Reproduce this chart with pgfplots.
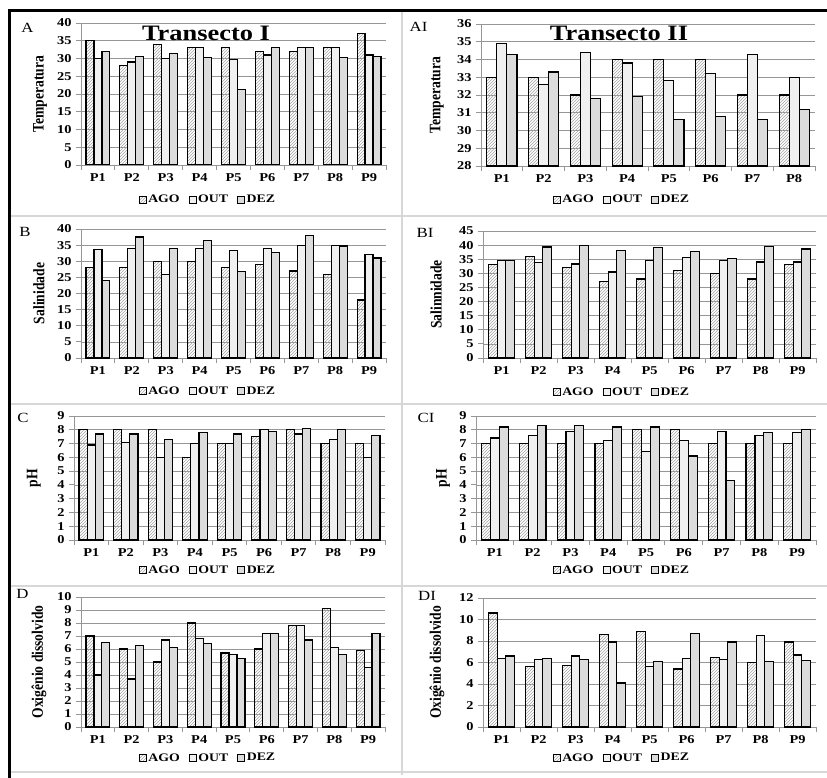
\documentclass[border=0pt]{standalone}
\usepackage{pgfplots}
\pgfplotsset{compat=1.18}
\usepackage{fontspec}
\setmainfont[FakeStretch=1.2]{Liberation Serif}
\newfontfamily\condfont[FakeStretch=0.85]{Liberation Serif}
\usetikzlibrary{patterns}
\definecolor{gridgray}{RGB}{150,150,150}
\definecolor{outfill}{RGB}{240,240,240}
\definecolor{dezfill}{RGB}{220,220,220}
\definecolor{hatchgray}{RGB}{165,165,165}
\definecolor{framegray}{RGB}{215,215,215}

\pgfplotsset{
  every non boxed x axis/.style={},
  every non boxed y axis/.style={},
  panel/.style={
    scale only axis,
    ybar,
    bar width=0.235,
    axis x line=bottom, axis y line=left,
    x axis line style={-}, y axis line style={-},
    axis line style={draw=gridgray, line width=0.8pt},
    ymajorgrids, grid style={draw=gridgray, line width=0.7pt},
    xtick={0,...,8},
    xticklabels={P1,P2,P3,P4,P5,P6,P7,P8,P9},
    xmin=-0.5, xmax=8.5,
    major x tick style={draw=none},
    minor xtick={-0.5,0.5,...,8.5},
    minor x tick style={draw=gridgray, line width=0.8pt},
    minor tick length=5pt,
    major tick length=5pt,
    tick align=outside,
    ytick style={draw=gridgray, line width=0.8pt},
    tick label style={font=\fontsize{12}{14}\selectfont\bfseries},
    yticklabel style={xshift=-1pt},
    /pgf/number format/assume math mode=true,
    ylabel style={font=\condfont\fontsize{16}{18}\selectfont\bfseries, anchor=center},
    legend columns=3,
    legend style={draw=none, fill=none, font=\fontsize{11.5}{13}\selectfont\bfseries, anchor=center,
      /tikz/every even column/.append style={column sep=7pt}},
  },
  sqleg/.style={legend image code/.code={\draw[##1, draw=black, line width=0.5pt] (0pt,-3.5pt) rectangle (7pt,3.5pt);}},
  ago/.style={draw=black, line width=1.2pt, pattern=north east lines, pattern color=hatchgray, bar shift=-0.235, sqleg},
  out/.style={draw=black, line width=1.2pt, fill=outfill, bar shift=0, sqleg},
  dez/.style={draw=black, line width=1.2pt, fill=dezfill, bar shift=0.235, sqleg},
}

\begin{document}
\begin{tikzpicture}
\path[use as bounding box] (0pt,0pt) rectangle (827pt,-778pt);
\fill[white] (0pt,0pt) rectangle (827pt,-778pt);

% frame
\draw[framegray, line width=2.5pt] (402pt,-12pt) -- (402pt,-775pt);
\draw[framegray, line width=2pt] (11pt,-216pt) -- (827pt,-216pt);
\draw[framegray, line width=2pt] (11pt,-404pt) -- (827pt,-404pt);
\draw[framegray, line width=2pt] (11pt,-586pt) -- (827pt,-586pt);
\draw[framegray, line width=2pt] (11pt,-772pt) -- (827pt,-772pt);
\fill[black] (8pt,-9.5pt) rectangle (827pt,-12pt);
\fill[black] (8pt,-9.5pt) rectangle (11pt,-778pt);

% ---------- A ----------
\begin{axis}[panel, at={(81pt,-165pt)}, anchor=south west, width=305pt, height=142pt,
  ymin=0, ymax=40, ytick={0,5,...,40}, ylabel={Temperatura},
  ylabel style={at={(axis description cs:-0.134,0.5)}},
  legend style={at={(0.416,-0.246)}}]
\addplot[ago] coordinates {(0,35) (1,28) (2,34) (3,33) (4,33) (5,32) (6,32) (7,33) (8,37)};
\addplot[out] coordinates {(0,30) (1,29) (2,30) (3,33) (4,29.8) (5,31) (6,33) (7,33) (8,31)};
\addplot[dez] coordinates {(0,32) (1,30.5) (2,31.3) (3,30.3) (4,21.2) (5,33) (6,33) (7,30.3) (8,30.5)};
\legend{AGO,OUT,DEZ}
\end{axis}

% ---------- AI ----------
\begin{axis}[panel, at={(481pt,-166pt)}, anchor=south west, width=334pt, height=142pt,
  xmin=-0.5, xmax=7.5, xtick={0,...,7}, minor xtick={-0.5,0.5,...,7.5},
  xticklabels={P1,P2,P3,P4,P5,P6,P7,P8},
  bar width=0.24,
  ymin=28, ymax=36, ytick={28,29,...,36}, ylabel={Temperatura},
  ylabel style={at={(axis description cs:-0.132,0.5)}},
  legend style={at={(0.422,-0.239)}}]
\addplot[ago, bar shift=-0.24] coordinates {(0,33) (1,33) (2,32) (3,34) (4,34) (5,34) (6,32) (7,32)};
\addplot[out] coordinates {(0,34.9) (1,32.6) (2,34.4) (3,33.8) (4,32.8) (5,33.2) (6,34.3) (7,33)};
\addplot[dez, bar shift=0.24] coordinates {(0,34.3) (1,33.3) (2,31.8) (3,31.9) (4,30.6) (5,30.8) (6,30.6) (7,31.2)};
\legend{AGO,OUT,DEZ}
\end{axis}

% ---------- B ----------
\begin{axis}[panel, at={(81pt,-358pt)}, anchor=south west, width=305pt, height=129pt,
  ymin=0, ymax=40, ytick={0,5,...,40}, ylabel={Salinidade},
  ylabel style={at={(axis description cs:-0.138,0.5)}},
  legend style={at={(0.416,-0.256)}}]
\addplot[ago] coordinates {(0,28) (1,28) (2,30) (3,30) (4,28) (5,29) (6,27) (7,26) (8,18)};
\addplot[out] coordinates {(0,33.6) (1,34) (2,26) (3,34) (4,33.3) (5,34) (6,35) (7,35) (8,32)};
\addplot[dez] coordinates {(0,24) (1,37.5) (2,34) (3,36.5) (4,26.7) (5,32.7) (6,38) (7,34.7) (8,31)};
\legend{AGO,OUT,DEZ}
\end{axis}

% ---------- BI ----------
\begin{axis}[panel, at={(483pt,-358pt)}, anchor=south west, width=333pt, height=127pt,
  ymin=0, ymax=45, ytick={0,5,...,45}, ylabel={Salinnidade},
  ylabel style={at={(axis description cs:-0.141,0.5)}},
  legend style={at={(0.417,-0.268)}}]
\addplot[ago] coordinates {(0,33) (1,36) (2,32) (3,27) (4,28) (5,31) (6,30) (7,28) (8,33)};
\addplot[out] coordinates {(0,34.5) (1,33.7) (2,33.3) (3,30.5) (4,34.5) (5,35.7) (6,34.5) (7,34) (8,34)};
\addplot[dez] coordinates {(0,34.5) (1,39.3) (2,40) (3,38) (4,39.1) (5,37.7) (6,35.3) (7,39.5) (8,38.6)};
\legend{AGO,OUT,DEZ}
\end{axis}

% ---------- C ----------
\begin{axis}[panel, at={(74pt,-540pt)}, anchor=south west, width=311pt, height=124pt,
  ymin=0, ymax=9, ytick={0,1,...,9}, ylabel={pH},
  ylabel style={at={(axis description cs:-0.129,0.5)}},
  legend style={at={(0.431,-0.242)}}]
\addplot[ago] coordinates {(0,8) (1,8) (2,8) (3,6) (4,7) (5,7.5) (6,8) (7,7) (8,7)};
\addplot[out] coordinates {(0,6.9) (1,7.1) (2,6) (3,7) (4,7) (5,8) (6,7.7) (7,7.3) (8,6)};
\addplot[dez] coordinates {(0,7.7) (1,7.7) (2,7.3) (3,7.8) (4,7.7) (5,7.9) (6,8.1) (7,8) (8,7.6)};
\legend{AGO,OUT,DEZ}
\end{axis}

% ---------- CI ----------
\begin{axis}[panel, at={(476pt,-540pt)}, anchor=south west, width=340pt, height=124pt,
  ymin=0, ymax=9, ytick={0,1,...,9}, ylabel={pH},
  ylabel style={at={(axis description cs:-0.097,0.5)}},
  legend style={at={(0.429,-0.242)}}]
\addplot[ago] coordinates {(0,7) (1,7) (2,7) (3,7) (4,8) (5,8) (6,7) (7,7) (8,7)};
\addplot[out] coordinates {(0,7.4) (1,7.6) (2,7.9) (3,7.2) (4,6.4) (5,7.2) (6,7.9) (7,7.6) (8,7.8)};
\addplot[dez] coordinates {(0,8.2) (1,8.3) (2,8.3) (3,8.2) (4,8.2) (5,6.1) (6,4.3) (7,7.8) (8,8)};
\legend{AGO,OUT,DEZ}
\end{axis}

% ---------- D ----------
\begin{axis}[panel, at={(81pt,-727pt)}, anchor=south west, width=304pt, height=130pt,
  ymin=0, ymax=10, ytick={0,1,...,10}, ylabel={Oxigênio dissolvido},
  ylabel style={at={(axis description cs:-0.138,0.5)}},
  legend style={at={(0.418,-0.238)}}]
\addplot[ago] coordinates {(0,7) (1,6) (2,5) (3,8) (4,5.7) (5,6) (6,7.8) (7,9.1) (8,5.9)};
\addplot[out] coordinates {(0,4) (1,3.7) (2,6.7) (3,6.8) (4,5.6) (5,7.2) (6,7.8) (7,6.1) (8,4.6)};
\addplot[dez] coordinates {(0,6.5) (1,6.3) (2,6.1) (3,6.4) (4,5.3) (5,7.2) (6,6.7) (7,5.6) (8,7.2)};
\legend{AGO,OUT,DEZ}
\end{axis}

% ---------- DI ----------
\begin{axis}[panel, at={(483pt,-727pt)}, anchor=south west, width=333pt, height=129pt,
  ymin=0, ymax=12, ytick={0,2,...,12}, ylabel={Oxigênio dissolvido},
  ylabel style={at={(axis description cs:-0.138,0.5)}},
  legend style={at={(0.417,-0.24)}}]
\addplot[ago] coordinates {(0,10.6) (1,5.6) (2,5.7) (3,8.6) (4,8.9) (5,5.4) (6,6.5) (7,6) (8,7.9)};
\addplot[out] coordinates {(0,6.4) (1,6.3) (2,6.6) (3,7.9) (4,5.6) (5,6.4) (6,6.3) (7,8.5) (8,6.7)};
\addplot[dez] coordinates {(0,6.6) (1,6.4) (2,6.3) (3,4.1) (4,6.1) (5,8.7) (6,7.9) (7,6.1) (8,6.2)};
\legend{AGO,OUT,DEZ}
\end{axis}

% panel letters and titles
\node[font=\fontsize{14}{16}\selectfont] at (27.5pt,-28pt) {A};
\node[font=\fontsize{14}{16}\selectfont] at (418.5pt,-27pt) {AI};
\node[font=\fontsize{14}{16}\selectfont] at (25pt,-232pt) {B};
\node[font=\fontsize{14}{16}\selectfont] at (425pt,-233pt) {BI};
\node[font=\fontsize{14}{16}\selectfont] at (23pt,-418pt) {C};
\node[font=\fontsize{14}{16}\selectfont] at (426pt,-418pt) {CI};
\node[font=\fontsize{14}{16}\selectfont] at (22.5pt,-594pt) {D};
\node[font=\fontsize{14}{16}\selectfont] at (427pt,-596pt) {DI};
\node[font=\fontsize{22}{24}\selectfont\bfseries] at (206pt,-33pt) {Transecto I};
\node[font=\fontsize{22}{24}\selectfont\bfseries] at (619pt,-33pt) {Transecto II};
\end{tikzpicture}
\end{document}
